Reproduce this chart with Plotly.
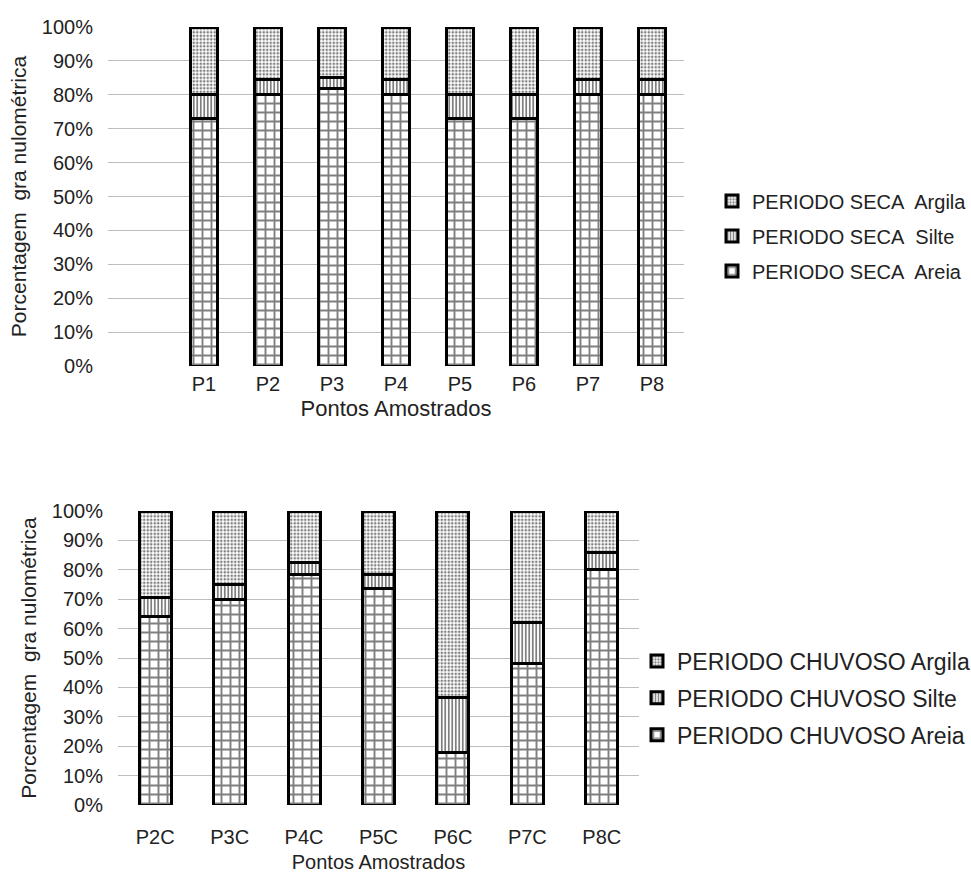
import plotly.graph_objects as go

# Sampling points
dry_points = ["P1", "P2", "P3", "P4", "P5", "P6", "P7", "P8"]
wet_points = ["P2C", "P3C", "P4C", "P5C", "P6C", "P7C", "P8C"]

# Grain-size fractions (%) - dry season
dry_areia = [73, 80, 82, 80, 73, 73, 80, 80]
dry_silte = [7, 4.5, 3, 4.5, 7, 7, 4.5, 4.5]
dry_argila = [20, 15.5, 15, 15.5, 20, 20, 15.5, 15.5]

# Grain-size fractions (%) - rainy season
wet_areia = [64, 70, 78.5, 73.5, 18, 48, 80]
wet_silte = [6.5, 5, 4, 5, 18.5, 14, 6]
wet_argila = [29.5, 25, 17.5, 21.5, 63.5, 38, 14]

y_ticks = [0, 10, 20, 30, 40, 50, 60, 70, 80, 90, 100]
y_tick_labels = [f"{v}%" for v in y_ticks]

FONT = "Liberation Sans, Arial, sans-serif"
W, H = 971, 881
INK = "#222222"

patterns = {
    "Areia": dict(shape="+", size=9, solidity=0.38, fgcolor="black", bgcolor="white"),
    "Silte": dict(shape="|", size=3.5, solidity=0.5, fgcolor="black", bgcolor="white"),
    "Argila": dict(shape=".", size=3.5, solidity=0.45, fgcolor="black", bgcolor="white"),
}
legend_rank = {"Argila": 1, "Silte": 2, "Areia": 3}

fig = go.Figure()


def add_series(x, values, name, label, xa, ya, legend, group):
    fig.add_trace(go.Bar(
        x=x, y=values, name=label,
        xaxis=xa, yaxis=ya, legend=legend, legendgroup=group,
        legendrank=legend_rank[name],
        marker=dict(color="white", pattern=patterns[name],
                    line=dict(color="black", width=3)),
        hoverinfo="x+y+name",
    ))


for name, vals in [("Areia", dry_areia), ("Silte", dry_silte), ("Argila", dry_argila)]:
    add_series(dry_points, vals, name, f"PERIODO SECA\u00a0 {name}", "x", "y", "legend", "d" + name)

for name, vals in [("Areia", wet_areia), ("Silte", wet_silte), ("Argila", wet_argila)]:
    add_series(wet_points, vals, name, f"PERIODO CHUVOSO {name}", "x2", "y2", "legend2", "w" + name)


def px_x(a, b):
    return [a / W, b / W]


def px_y(top, bottom):
    return [1 - bottom / H, 1 - top / H]


axis_font = dict(family=FONT, size=20, color=INK)
ytitle_font = dict(family=FONT, size=21, color=INK)

common_y = dict(
    range=[0, 100], tickmode="array", tickvals=y_ticks, ticktext=y_tick_labels,
    showgrid=True, gridcolor="#bdbdbd", gridwidth=1,
    zeroline=False, showline=False, ticks="",
    tickfont=axis_font, ticklabelstandoff=14,
    title=dict(text="Porcentagem\u00a0 gra nulométrica", font=ytitle_font, standoff=9),
    fixedrange=True,
)
common_x = dict(
    type="category", showgrid=False, zeroline=False, showline=False, ticks="",
    tickfont=axis_font, fixedrange=True,
)

fig.update_layout(
    width=W, height=H,
    margin=dict(l=0, r=0, t=0, b=0, autoexpand=False),
    paper_bgcolor="white", plot_bgcolor="white",
    barmode="stack", bargap=0.57,
    font=dict(family=FONT, color=INK),
    xaxis=dict(common_x, domain=px_x(108, 684), anchor="y",
               range=[-1.5, 7.5], categoryorder="array", categoryarray=dry_points,
               ticklabelstandoff=4,
               title=dict(text="Pontos Amostrados", font=dict(family=FONT, size=22, color=INK),
                          standoff=6)),
    yaxis=dict(common_y, domain=px_y(27, 366), anchor="x"),
    xaxis2=dict(common_x, domain=px_x(118, 639), anchor="y2",
                range=[-0.5, 6.5], categoryorder="array", categoryarray=wet_points,
                ticklabelstandoff=18,
                title=dict(text="Pontos Amostrados", font=dict(family=FONT, size=20, color=INK),
                           standoff=7)),
    yaxis2=dict(common_y, domain=px_y(511, 805), anchor="x2"),
    legend=dict(x=712 / W, xanchor="left", y=1 - 236 / H, yanchor="middle",
                traceorder="grouped", tracegroupgap=6,
                font=dict(family=FONT, size=20, color=INK), bgcolor="rgba(0,0,0,0)"),
    legend2=dict(x=637 / W, xanchor="left", y=1 - 698 / H, yanchor="middle",
                 traceorder="grouped", tracegroupgap=4,
                 font=dict(family=FONT, size=23, color=INK), bgcolor="rgba(0,0,0,0)"),
    showlegend=True,
)

fig.write_html("out.html")
